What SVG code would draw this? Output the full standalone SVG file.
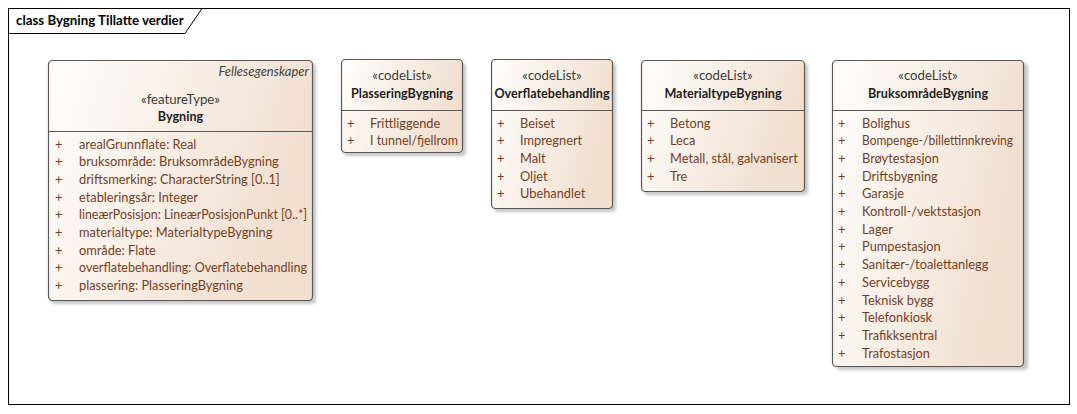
<svg xmlns="http://www.w3.org/2000/svg" width="1077" height="414" viewBox="0 0 1077 414">
<style>
text{font-family:Lato,"Liberation Sans",sans-serif;font-size:12.8px}
.box{fill:url(#g);stroke:#5a5a5a;stroke-width:1.2}
.sh{fill:#9a9a9a;opacity:0.55;filter:url(#blur)}
.sep{stroke:#5a5a5a;stroke-width:1}
.st{fill:#3c3c3c;text-anchor:middle;font-size:13.2px}
.nm{fill:#1e1e1e;font-weight:bold;text-anchor:middle;font-size:12.6px}
.it{fill:#763f25}
.tag{fill:#444;font-style:italic;text-anchor:end;font-size:13px}
.frame{fill:none;stroke:#000;stroke-width:1}
</style>
<defs>
<linearGradient id="g" x1="0" y1="0" x2="1" y2="0.3">
<stop offset="0" stop-color="#fffefd"/>
<stop offset="1" stop-color="#f1dfcf"/>
</linearGradient>
<filter id="blur" x="-10%" y="-10%" width="120%" height="120%"><feGaussianBlur stdDeviation="1.5"/></filter>
</defs>
<rect x="0" y="0" width="1077" height="414" fill="#fff"/>
<g id="frame">
<rect class="frame" x="8.5" y="8.5" width="1061" height="396"/>
<path class="frame" d="M8.5 33.5 H185 L202 8.5"/>
<text x="16" y="24.5" style="font-weight:bold;font-size:13.3px;fill:#000">class Bygning Tillatte verdier</text>
</g>
<g id="connectors"></g>
<g id="Bygning">
<rect class="sh" x="51" y="63" width="265" height="241" rx="4"/>
<rect class="box" x="48.5" y="60.5" width="264" height="240" rx="4"/>
<line class="sep" x1="48.5" y1="131.5" x2="312.5" y2="131.5"/>
<text class="tag" x="309" y="75.5">Fellesegenskaper</text>
<text class="st" x="180.5" y="103.5">«featureType»</text>
<text class="nm" x="180.5" y="120.5">Bygning</text>
<g class="it">
<text x="55" y="148.5">+</text><text x="79" y="148.5">arealGrunnflate: Real</text>
<text x="55" y="166.2">+</text><text x="79" y="166.2">bruksområde: BruksområdeBygning</text>
<text x="55" y="183.9">+</text><text x="79" y="183.9">driftsmerking: CharacterString [0..1]</text>
<text x="55" y="201.6">+</text><text x="79" y="201.6">etableringsår: Integer</text>
<text x="55" y="219.3">+</text><text x="79" y="219.3" textLength="228" lengthAdjust="spacingAndGlyphs">lineærPosisjon: LineærPosisjonPunkt [0..*]</text>
<text x="55" y="237">+</text><text x="79" y="237">materialtype: MaterialtypeBygning</text>
<text x="55" y="254.7">+</text><text x="79" y="254.7">område: Flate</text>
<text x="55" y="272.4">+</text><text x="79" y="272.4" textLength="228" lengthAdjust="spacingAndGlyphs">overflatebehandling: Overflatebehandling</text>
<text x="55" y="290.1">+</text><text x="79" y="290.1">plassering: PlasseringBygning</text>
</g>
</g>
<g id="PlasseringBygning">
<rect class="sh" x="344" y="63" width="122" height="93" rx="4"/>
<rect class="box" x="341.5" y="59.5" width="121" height="93" rx="4"/>
<line class="sep" x1="341.5" y1="110.5" x2="462.5" y2="110.5"/>
<text class="st" x="402" y="79.5">«codeList»</text>
<text class="nm" x="402" y="98">PlasseringBygning</text>
<g class="it">
<text x="347" y="127.5">+</text><text x="370" y="127.5">Frittliggende</text>
<text x="347" y="145.2">+</text><text x="370" y="145.2" textLength="88" lengthAdjust="spacingAndGlyphs">I tunnel/fjellrom</text>
</g>
</g>
<g id="Overflatebehandling">
<rect class="sh" x="494" y="63" width="122" height="149" rx="4"/>
<rect class="box" x="491.5" y="59.5" width="121" height="149" rx="4"/>
<line class="sep" x1="491.5" y1="110.5" x2="612.5" y2="110.5"/>
<text class="st" x="552" y="79.5">«codeList»</text>
<text class="nm" x="552" y="98">Overflatebehandling</text>
<g class="it">
<text x="497" y="127.5">+</text><text x="520" y="127.5">Beiset</text>
<text x="497" y="145.2">+</text><text x="520" y="145.2">Impregnert</text>
<text x="497" y="162.9">+</text><text x="520" y="162.9">Malt</text>
<text x="497" y="180.6">+</text><text x="520" y="180.6">Oljet</text>
<text x="497" y="198.3">+</text><text x="520" y="198.3">Ubehandlet</text>
</g>
</g>
<g id="MaterialtypeBygning">
<rect class="sh" x="644" y="63" width="164" height="132" rx="4"/>
<rect class="box" x="641.5" y="60.5" width="163" height="131" rx="4"/>
<line class="sep" x1="641.5" y1="110.5" x2="804.5" y2="110.5"/>
<text class="st" x="723" y="79.5">«codeList»</text>
<text class="nm" x="723" y="98">MaterialtypeBygning</text>
<g class="it">
<text x="647" y="127.5">+</text><text x="670" y="127.5">Betong</text>
<text x="647" y="145.2">+</text><text x="670" y="145.2">Leca</text>
<text x="647" y="162.9">+</text><text x="670" y="162.9">Metall, stål, galvanisert</text>
<text x="647" y="180.6">+</text><text x="670" y="180.6">Tre</text>
</g>
</g>
<g id="BruksomradeBygning">
<rect class="sh" x="836" y="63" width="192" height="307" rx="4"/>
<rect class="box" x="832.5" y="60.5" width="191" height="306" rx="4"/>
<line class="sep" x1="832.5" y1="110.5" x2="1023.5" y2="110.5"/>
<text class="st" x="928" y="79.5">«codeList»</text>
<text class="nm" x="928" y="98">BruksområdeBygning</text>
<g class="it">
<text x="838" y="127.5">+</text><text x="862" y="127.5">Bolighus</text>
<text x="838" y="145.2">+</text><text x="862" y="145.2" textLength="151" lengthAdjust="spacingAndGlyphs">Bompenge-/billettinnkreving</text>
<text x="838" y="162.9">+</text><text x="862" y="162.9">Brøytestasjon</text>
<text x="838" y="180.6">+</text><text x="862" y="180.6">Driftsbygning</text>
<text x="838" y="198.3">+</text><text x="862" y="198.3">Garasje</text>
<text x="838" y="216">+</text><text x="862" y="216">Kontroll-/vektstasjon</text>
<text x="838" y="233.7">+</text><text x="862" y="233.7">Lager</text>
<text x="838" y="251.4">+</text><text x="862" y="251.4">Pumpestasjon</text>
<text x="838" y="269.1">+</text><text x="862" y="269.1">Sanitær-/toalettanlegg</text>
<text x="838" y="286.8">+</text><text x="862" y="286.8">Servicebygg</text>
<text x="838" y="304.5">+</text><text x="862" y="304.5">Teknisk bygg</text>
<text x="838" y="322.2">+</text><text x="862" y="322.2">Telefonkiosk</text>
<text x="838" y="339.9">+</text><text x="862" y="339.9">Trafikksentral</text>
<text x="838" y="357.6">+</text><text x="862" y="357.6">Trafostasjon</text>
</g>
</g>
</svg>
